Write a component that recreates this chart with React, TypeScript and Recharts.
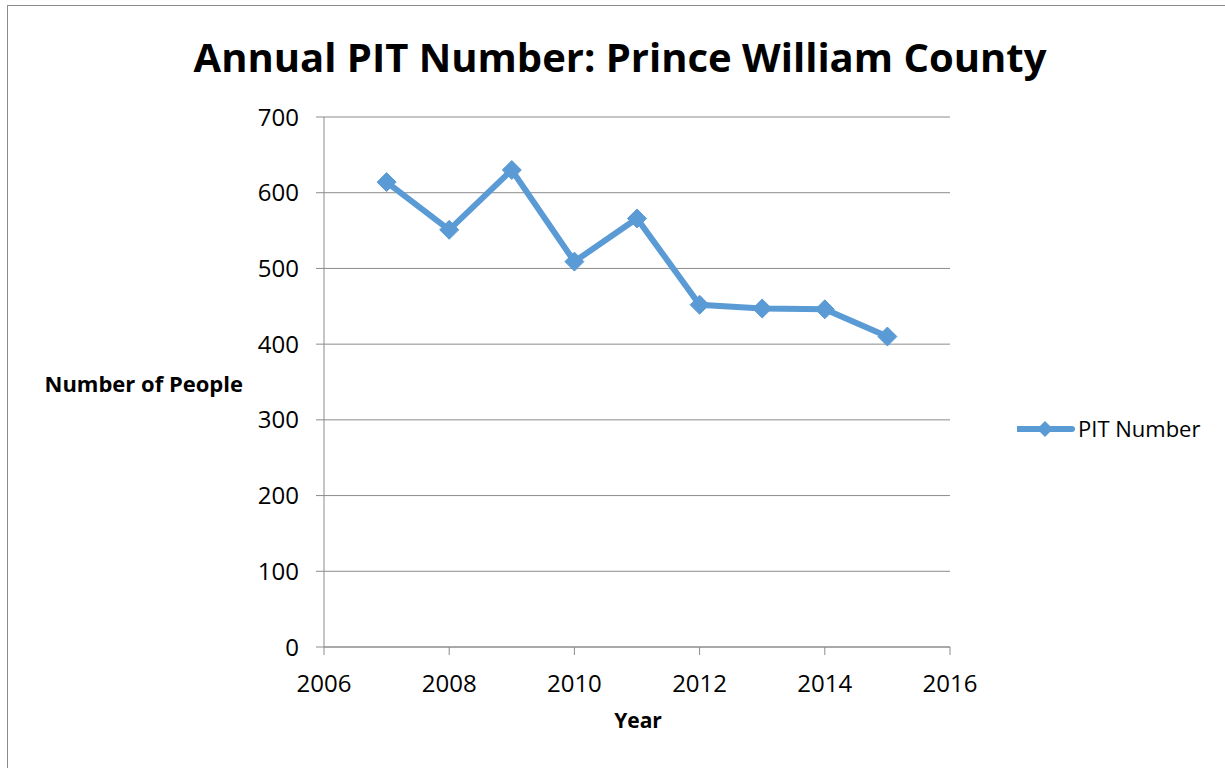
import React from "react";
import {
  LineChart,
  Line,
  XAxis,
  YAxis,
  CartesianGrid,
  Legend,
} from "recharts";

// data
const years = [2007, 2008, 2009, 2010, 2011, 2012, 2013, 2014, 2015];
const pitNumber = [614, 551, 630, 509, 566, 452, 447, 446, 410];
const xTicks = [2006, 2008, 2010, 2012, 2014, 2016];
const yTicks = [0, 100, 200, 300, 400, 500, 600, 700];

const seriesName = "PIT Number";
const BLUE = "#5B9BD5";
const GRID = "#8c8c8c";
const FONT = "'Open Sans', 'Noto Sans', sans-serif";

const data = years.map((year, i) => ({ year, value: pitNumber[i] }));

//========== diamond marker ===========
const Diamond = (props: any) => {
  const { cx, cy } = props;
  if (cx == null || cy == null) return null;
  const r = 9.5;
  return (
    <polygon
      points={`${cx},${cy - r} ${cx + r},${cy} ${cx},${cy + r} ${cx - r},${cy}`}
      fill={BLUE}
      stroke={BLUE}
      strokeWidth={1}
    />
  );
};

const LegendBox = () => (
  <svg width={206} height={30} style={{ display: "block" }}>
    <line x1={1} y1={15} x2={55} y2={15} stroke={BLUE} strokeWidth={6} strokeLinecap="round" />
    <polygon points="28,7 36,15 28,23 20,15" fill={BLUE} />
    <text x={61} y={23} fontFamily={FONT} fontSize={22} fill="#000">
      {seriesName}
    </text>
  </svg>
);

const App: React.FC = () => {
  return (
    <div
      style={{
        position: "absolute",
        left: 7,
        top: 5,
        width: 1217,
        height: 762,
        borderTop: "1px solid #8c8c8c",
        borderLeft: "1px solid #8c8c8c",
        background: "#fff",
        overflow: "hidden",
      }}
    >
      {/*========= Title =========*/}
      <svg
        width={1217}
        height={100}
        style={{ position: "absolute", left: 0, top: 0, pointerEvents: "none" }}
      >
        <text
          x={612}
          y={66}
          textAnchor="middle"
          fontFamily={FONT}
          fontWeight={700}
          fontSize={40}
          fill="#000"
        >
          Annual PIT Number: Prince William County
        </text>
      </svg>

      {/*========= Line Chart =========*/}
      <LineChart
        width={1217}
        height={762}
        data={data}
        margin={{ top: 111, right: 275, bottom: 61, left: 0 }}
      >
        <CartesianGrid horizontal vertical={false} stroke={GRID} strokeWidth={1} />
        <XAxis
          dataKey="year"
          type="number"
          domain={[2006, 2016]}
          ticks={xTicks}
          interval={0}
          height={60}
          stroke={GRID}
          tickSize={8}
          tickMargin={20}
          tick={{ fill: "#000", fontSize: 24, fontFamily: FONT }}
          label={(p: any) => {
            const vb = p.viewBox;
            return (
              <text
                x={vb.x + vb.width / 2 + 1}
                y={722}
                textAnchor="middle"
                fontFamily={FONT}
                fontWeight={700}
                fontSize={21}
                fill="#000"
              >
                Year
              </text>
            );
          }}
        />
        <YAxis
          type="number"
          domain={[0, 700]}
          ticks={yTicks}
          interval={0}
          width={316}
          stroke={GRID}
          tickSize={8}
          tickMargin={17}
          tick={{ fill: "#000", fontSize: 24, fontFamily: FONT }}
          label={() => (
            <text
              x={235}
              y={386}
              textAnchor="end"
              fontFamily={FONT}
              fontWeight={700}
              fontSize={22}
              fill="#000"
            >
              Number of People
            </text>
          )}
        />
        <Legend
          layout="horizontal"
          align="center"
          verticalAlign="middle"
          wrapperStyle={{ left: 1009, top: 408, width: 206 }}
          content={() => <LegendBox />}
        />
        <Line
          name={seriesName}
          dataKey="value"
          stroke={BLUE}
          strokeWidth={6}
          dot={<Diamond />}
          activeDot={false}
          isAnimationActive={false}
        />
      </LineChart>
    </div>
  );
};

export default App;
